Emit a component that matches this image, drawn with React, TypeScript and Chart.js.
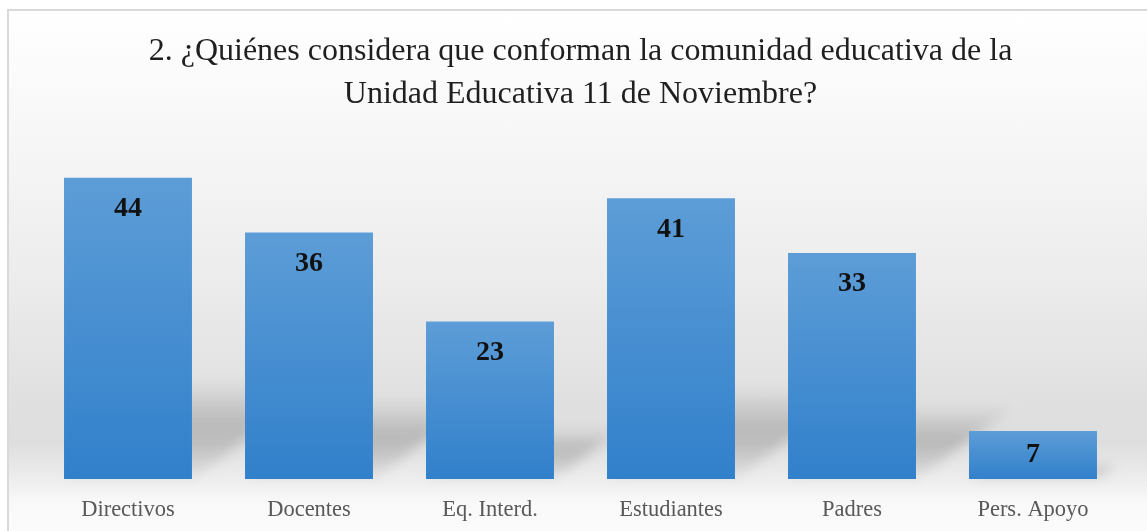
import React, { useEffect, useRef } from "react";
import { Chart, registerables } from "chart.js";

Chart.register(...registerables);

const titleLines = [
  "2. ¿Quiénes considera que conforman la comunidad educativa de la",
  "Unidad Educativa 11 de Noviembre?",
];
const categories = ["Directivos", "Docentes", "Eq. Interd.", "Estudiantes", "Padres", "Pers. Apoyo"];
const values = [44, 36, 23, 41, 33, 7];
const yMax = 50;

const FONT = "'Liberation Serif', 'Times New Roman', serif";

const shadowPlugin = {
  id: "perspectiveShadow",
  beforeDatasetsDraw(chart: any) {
    const ctx = chart.ctx;
    const meta = chart.getDatasetMeta(0);
    ctx.save();
    ctx.filter = "blur(6px)";
    meta.data.forEach((bar: any) => {
      const { x, y, base, width } = bar.getProps(["x", "y", "base", "width"], true);
      const h = base - y;
      const x0 = x - width / 2;
      const x1 = x + width / 2;
      const top = base - h * 0.33;
      const dx = h * 0.45;
      const g = ctx.createLinearGradient(0, top, 0, base);
      g.addColorStop(0, "rgba(0,0,0,0)");
      g.addColorStop(0.45, "rgba(0,0,0,0.17)");
      g.addColorStop(0.7, "rgba(0,0,0,0.13)");
      g.addColorStop(1, "rgba(0,0,0,0.03)");
      ctx.fillStyle = g;
      ctx.beginPath();
      ctx.moveTo(x0, base);
      ctx.lineTo(x1, base);
      ctx.lineTo(x1 + dx, top);
      ctx.lineTo(x0 + dx, top);
      ctx.closePath();
      ctx.fill();
    });
    ctx.restore();
  },
};

const labelPlugin = {
  id: "innerLabels",
  afterDatasetsDraw(chart: any) {
    const ctx = chart.ctx;
    const meta = chart.getDatasetMeta(0);
    ctx.save();
    ctx.font = `bold 28px ${FONT}`;
    ctx.fillStyle = "#111111";
    ctx.textAlign = "center";
    ctx.textBaseline = "middle";
    meta.data.forEach((bar: any, i: number) => {
      const { x, y, base } = bar.getProps(["x", "y", "base"], true);
      const h = base - y;
      const ly = h > 60 ? y + 31 : y + h / 2;
      ctx.fillText(String(values[i]), x, ly);
    });
    ctx.restore();
  },
};

export default function App() {
  const ref = useRef<HTMLCanvasElement>(null);
  useEffect(() => {
    if (!ref.current) return;
    const chart = new Chart(ref.current, {
      type: "bar",
      data: {
        labels: categories,
        datasets: [
          {
            data: values,
            backgroundColor: (c: any) => {
              const ch = c.chart;
              if (!ch.chartArea || !ch.scales.y) return "#4a8fd2";
              const t = ch.scales.y.getPixelForValue(c.raw);
              const b = ch.scales.y.getPixelForValue(0);
              const g = ch.ctx.createLinearGradient(0, t, 0, b);
              g.addColorStop(0, "#5d9dd7");
              g.addColorStop(1, "#3180cb");
              return g;
            },
            borderWidth: 0,
            categoryPercentage: 1,
            barPercentage: 0.707,
          },
        ],
      },
      options: {
        animation: false,
        responsive: false,
        maintainAspectRatio: false,
        layout: { padding: { left: 37.5, right: 23.5, top: 0, bottom: 0 } },
        plugins: {
          legend: { display: false },
          tooltip: { enabled: false },
          title: {
            display: true,
            text: titleLines,
            color: "#1f1f1f",
            font: { family: FONT, size: 32, weight: "normal", lineHeight: 1.34 },
            padding: { top: 30, bottom: 21 },
          },
        },
        scales: {
          x: {
            grid: { display: false, drawTicks: false },
            border: { display: false },
            ticks: {
              color: "#595959",
              font: { family: FONT, size: 22.5 },
              padding: 18,
              maxRotation: 0,
            },
            afterFit: (s: any) => {
              s.height = 52;
            },
          },
          y: {
            display: false,
            min: 0,
            max: yMax,
          },
        },
      },
      plugins: [shadowPlugin, labelPlugin],
    });
    return () => chart.destroy();
  }, []);

  return (
    <div style={{ position: "fixed", left: 0, top: 0, width: 1147, height: 531, overflow: "hidden", background: "#ffffff" }}>
      <div
        style={{
          position: "absolute",
          left: 7,
          top: 9,
          width: 1160,
          height: 540,
          borderTop: "2px solid #d9d9d9",
          borderLeft: "2px solid #d9d9d9",
          background:
            "linear-gradient(to bottom, #ffffff 0%, #f6f6f6 25%, #ececec 50%, #e0e0e0 72%, #dedede 80%, #eeeeee 87%, #f9f9f9 91%, #fcfcfc 100%)",
        }}
      />
      <canvas ref={ref} width={1147} height={531} style={{ position: "absolute", left: 0, top: 0, width: 1147, height: 531 }} />
    </div>
  );
}
